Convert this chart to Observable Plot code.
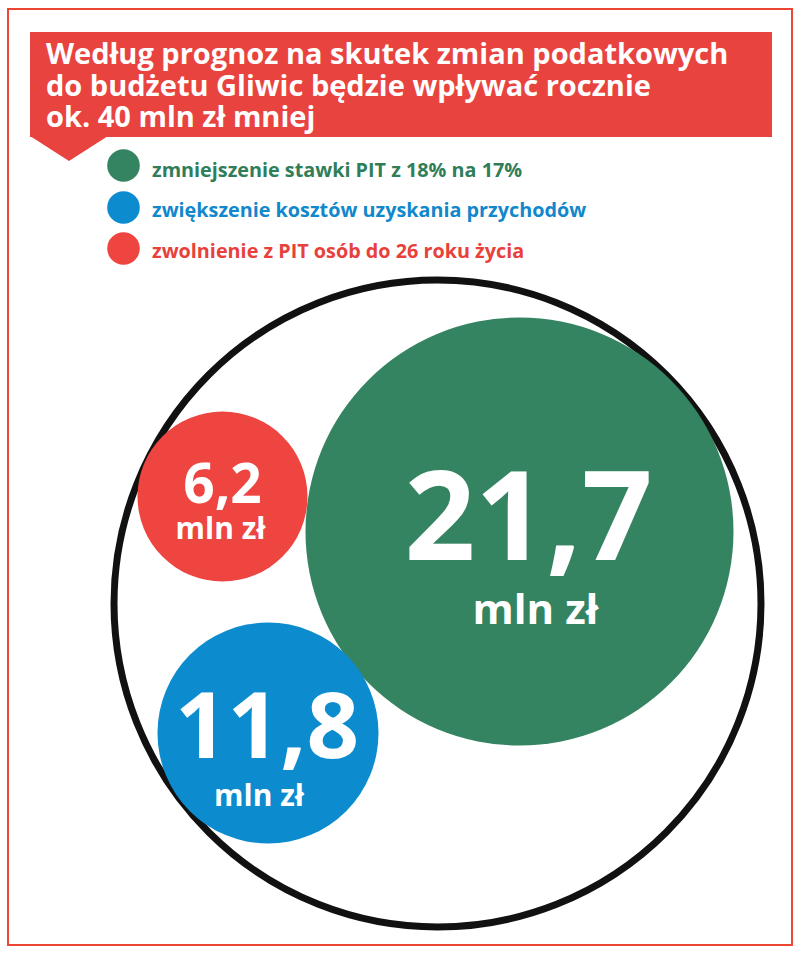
<!DOCTYPE html>
<html>
<head>
<meta charset="utf-8">
<script src="https://cdn.jsdelivr.net/npm/d3@7"></script>
<script src="https://cdn.jsdelivr.net/npm/@observablehq/plot@0.6"></script>
<style>
  body { margin: 0; background: #fff; }
  #page { position: relative; width: 800px; height: 954px; overflow: hidden; font-family: "Open Sans", sans-serif; }
  #frame { position: absolute; left: 7px; top: 8px; width: 786px; height: 938px; border: 2.5px solid #ec4632; box-sizing: border-box; }
  #header { position: absolute; left: 0; top: 0; }
  #chart { position: absolute; left: 0; top: 270px; }
</style>
</head>
<body>
<div id="page">
  <div id="frame"></div>
  <svg id="header" width="800" height="270"></svg>
  <div id="chart"></div>
</div>
<script>
// ---- data ----
const titleLines = [
  "Według prognoz na skutek zmian podatkowych",
  "do budżetu Gliwic będzie wpływać rocznie",
  "ok. 40 mln zł mniej"
];
const categories = [
  "zmniejszenie stawki PIT z 18% na 17%",
  "zwiększenie kosztów uzyskania przychodów",
  "zwolnienie z PIT osób do 26 roku życia"
];
const values = [21.7, 11.8, 6.2];          // mln zł
const total = 39.7;                         // ok. 40 mln zł
const unit = "mln zł";
const colors = ["#358461", "#0c8bcf", "#ee4541"];
const textColors = ["#2f7e59", "#1187cc", "#e8413c"];

// ---- layout (page pixel coordinates, not data) ----
const bubbleX = [519, 267.5, 222];
const bubbleY = [531, 732.5, 496];
const numDx = [9, -1, 0];
const numDy = [28, 24.5, 6];
const unitDx = [16, -9, -2];
const unitDy = [92, 72.5, 42];
const numSize = [124, 92, 55];
const unitSize = [42, 30, 30];
const ringX = 437, ringY = 603;

const font = "'Open Sans', sans-serif";

// ---- header: banner, title, legend ----
const hdr = d3.select("#header");
hdr.append("rect").attr("x", 30).attr("y", 32).attr("width", 742).attr("height", 105).attr("fill", "#e9433f");
hdr.append("polygon").attr("points", "30,136 69,161 108,136").attr("fill", "#e9433f");
hdr.selectAll("text.title").data(titleLines).join("text")
  .attr("class", "title")
  .attr("x", 46).attr("y", (d, i) => 64 + i * 31.5)
  .attr("fill", "#fff").attr("font-family", font).attr("font-weight", 700)
  .attr("font-size", 29)
  .text(d => d);
const legendCy = [165.5, 207.5, 248.5];
const legendBase = [176.5, 217, 257.5];
const lg = hdr.selectAll("g.lg").data(categories).join("g").attr("class", "lg");
lg.append("circle").attr("cx", 123.5).attr("cy", (d, i) => legendCy[i]).attr("r", 16.3).attr("fill", (d, i) => colors[i]);
lg.append("text").attr("x", 152).attr("y", (d, i) => legendBase[i])
  .attr("fill", (d, i) => textColors[i]).attr("font-family", font).attr("font-weight", 700)
  .attr("font-size", 19.8).text(d => d);

// ---- bubbles with Plot ----
const fmt = v => String(v).replace(".", ",");
const rows = categories.map((c, i) => ({
  category: c, value: values[i], color: colors[i],
  x: bubbleX[i], y: bubbleY[i],
  nx: bubbleX[i] + numDx[i], ny: bubbleY[i] + numDy[i],
  ux: bubbleX[i] + unitDx[i], uy: bubbleY[i] + unitDy[i],
  ns: numSize[i], us: unitSize[i]
}));

const chart = Plot.plot({
  width: 800,
  height: 684,
  margin: 0,
  style: { background: "none" },
  x: { domain: [0, 800], range: [0, 800], axis: null },
  y: { domain: [270, 954], range: [0, 684], axis: null },
  // hand-drawn infographic radii: piecewise scale matching the picture
  r: { type: "linear", domain: [0, 6.2, 11.8, 21.7, 39.7], range: [0, 85, 110.5, 214, 323.5] },
  marks: [
    Plot.dot([total], { x: () => ringX, y: () => ringY, r: d => d, fill: "none", stroke: "#111", strokeWidth: 7 }),
    Plot.dot(rows, { x: "x", y: "y", r: "value", fill: "color", stroke: null }),
    Plot.text(rows, { x: "nx", y: "ny", text: d => fmt(d.value), fontSize: "ns", lineAnchor: "bottom",
      fill: "#fff", fontWeight: 700, fontFamily: font, textAnchor: "middle" }),
    Plot.text(rows, { x: "ux", y: "uy", text: () => unit, fontSize: "us", lineAnchor: "bottom",
      fill: "#fff", fontWeight: 700, fontFamily: font, textAnchor: "middle" })
  ]
});
document.getElementById("chart").appendChild(chart);
</script>
</body>
</html>
